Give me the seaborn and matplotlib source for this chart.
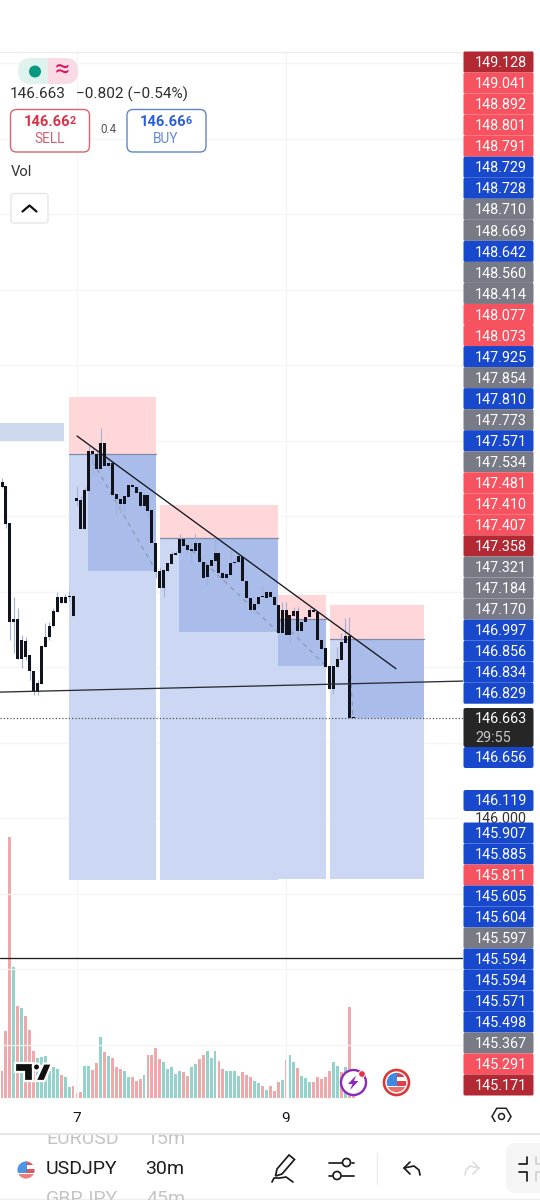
import matplotlib
matplotlib.use('Agg')

import matplotlib.pyplot as plt
import matplotlib.patches as mpatches
import seaborn as sns
import pandas as pd
import numpy as np

# candles
body_top = [148.223,148.198,147.951,147.315,147.315,147.178,147.174,147.077,146.975,146.891,
            147.139,147.200,147.273,147.373,147.461,147.461,147.461,147.472,147.472,148.119,
            148.106,148.172,148.432,148.430,148.410,148.481,148.481,148.348,148.353,148.143,
            148.114,148.132,148.205,148.205,148.194,148.159,148.136,148.139,148.039,147.823,
            147.635,147.640,147.688,147.748,147.757,147.849,147.845,147.808,147.779,147.821,
            147.821,147.697,147.675,147.706,147.752,147.752,147.620,147.613,147.686,147.697,
            147.735,147.730,147.571,147.459,147.417,147.463,147.470,147.498,147.498,147.465,
            147.410,147.375,147.375,147.342,147.373,147.373,147.300,147.333,147.381,147.381,
            147.366,147.176,147.125,147.006,147.006,147.053,147.163,147.205,147.205,146.668]
body_bot = [148.192,147.947,147.295,147.295,147.050,147.050,147.068,146.973,146.836,146.836,
            146.887,147.134,147.196,147.271,147.366,147.421,147.421,147.461,147.340,148.101,
            147.911,147.911,148.167,148.410,148.313,148.311,148.331,148.331,148.139,148.110,
            148.077,148.079,148.128,148.189,148.154,148.066,148.066,148.035,147.823,147.631,
            147.523,147.523,147.633,147.682,147.743,147.752,147.801,147.772,147.766,147.770,
            147.695,147.591,147.593,147.671,147.702,147.620,147.587,147.587,147.609,147.686,
            147.695,147.569,147.454,147.377,147.377,147.415,147.461,147.459,147.463,147.408,
            147.227,147.227,147.214,147.214,147.337,147.236,147.236,147.298,147.331,147.362,
            147.176,147.119,147.002,146.852,146.854,147.002,147.046,147.159,146.664,146.660]
wick_hi = [148.249,148.198,147.951,147.461,147.388,147.211,147.200,147.077,146.975,146.913,
           147.139,147.289,147.300,147.388,147.498,147.465,147.483,147.503,147.476,148.200,
           148.132,148.194,148.470,148.459,148.437,148.580,148.481,148.381,148.359,148.143,
           148.114,148.132,148.205,148.249,148.198,148.159,148.150,148.139,148.039,147.823,
           147.664,147.640,147.688,147.766,147.766,147.878,147.863,147.808,147.819,147.880,
           147.821,147.697,147.675,147.706,147.863,147.752,147.620,147.613,147.774,147.719,
           147.752,147.730,147.571,147.459,147.417,147.463,147.543,147.498,147.498,147.465,
           147.410,147.432,147.432,147.342,147.399,147.399,147.300,147.333,147.399,147.399,
           147.366,147.176,147.125,147.006,147.006,147.134,147.223,147.322,147.329,146.668]
wick_lo = [148.183,147.918,147.178,147.090,147.050,146.991,147.046,146.913,146.814,146.814,
           146.887,147.134,147.178,147.267,147.366,147.421,147.421,147.439,147.340,148.066,
           147.911,147.911,148.167,148.282,148.304,148.311,148.331,148.304,148.139,148.006,
           148.017,148.028,148.128,148.189,148.150,148.061,148.039,147.984,147.819,147.587,
           147.523,147.465,147.631,147.682,147.739,147.752,147.801,147.752,147.686,147.766,
           147.695,147.591,147.543,147.671,147.702,147.620,147.558,147.576,147.609,147.686,
           147.695,147.569,147.454,147.355,147.351,147.388,147.461,147.459,147.463,147.408,
           147.227,147.227,147.214,147.156,147.337,147.200,147.236,147.298,147.331,147.362,
           147.176,147.119,147.002,146.852,146.819,147.002,147.046,147.159,146.664,146.660]

volume = [27,67,261,131,92,90,82,68,47,40,41,42,27,31,29,23,21,11,12,5,6,32,32,28,35,61,46,42,40,31,
          29,27,21,21,17,19,23,43,43,50,39,36,29,31,24,27,26,22,31,34,39,43,47,40,47,37,29,27,27,27,
          22,26,23,21,17,15,12,8,12,7,16,18,38,43,36,30,22,20,16,16,21,19,21,27,36,32,26,31,91,3]
vol_side = ['d','d','d','u','d','u','d','d','d','u','u','u','u','u','u','d','u','u','d','d',
            'd','u','u','d','d','u','d','u','d','d','d','u','u','d','d','d','u','d','d','d',
            'd','u','u','u','u','u','d','d','u','u','d','d','u','u','u','d','d','u','u','u',
            'u','d','d','d','u','u','d','u','d','d','d','u','d','u','u','d','u','u','u','d',
            'd','d','d','d','u','u','d','u','d','d']

day_ticks = [19, 72]
day_labels = ['7', '9']

# position tools: left bar, right bar, stop, entry, target, inner bar, inner target
tool_left = [16.98, 40.05, 69.96, 83.14]
tool_right = [39.04, 69.96, 82.13, 106.97]
tool_stop = [148.791, 148.073, 147.477, 147.410]
tool_entry = [148.414, 147.854, 147.321, 147.184]
tool_target = [145.589, 145.589, 145.594, 145.594]
tool_inner_left = [21.8, 44.87, 69.96, 87.96]
tool_inner_target = [147.636, 147.232, 147.007, 146.663]

trend_x = [19.01, 99.87]
trend_y = [148.530, 146.989]
support_x = [-0.51, 116.86]
support_y = [146.834, 146.907]
level_low = 145.076
last_price = 146.663

# price scale labels, stacked
upper_labels = ['149.128','149.041','148.892','148.801','148.791','148.729','148.728','148.710',
                '148.669','148.642','148.560','148.414','148.077','148.073','147.925','147.854',
                '147.810','147.773','147.571','147.534','147.481','147.410','147.407','147.358',
                '147.321','147.184','147.170','146.997','146.856','146.834','146.829']
upper_colors = ['dr','r','r','r','r','b','b','g','g','b','g','g','r','r','b','g',
                'b','g','b','g','r','r','r','dr','g','g','g','b','b','b','b']
lower_labels = ['145.907','145.885','145.811','145.605','145.604','145.597','145.594','145.594',
                '145.571','145.498','145.367','145.291','145.171']
lower_colors = ['b','b','r','b','b','g','b','b','b','b','g','r','dr']

sns.set_style('white')
plt.rcParams['font.family'] = ['Roboto', 'DejaVu Sans']

W, H = 540, 1200
CHART_R, CHART_T, CHART_B = 463, 52, 1098
fig = plt.figure(figsize=(W / 100, H / 100), dpi=100, facecolor='white')
rect = [0, 1 - CHART_B / H, CHART_R / W, (CHART_B - CHART_T) / H]

ax_vol = fig.add_axes(rect, zorder=1)
ax = fig.add_axes(rect, zorder=2)
ax.patch.set_visible(False)

# volume
df_vol = pd.DataFrame({'bar': np.arange(len(volume)), 'volume': volume, 'side': vol_side})
sns.barplot(data=df_vol, x='bar', y='volume', hue='side', dodge=False,
            palette={'d': '#efa9aa', 'u': '#93d3cb'}, width=0.74, saturation=1,
            linewidth=0, legend=False, ax=ax_vol)
ax_vol.set_xlim(-0.51, 116.86)
ax_vol.set_ylim(0, CHART_B - CHART_T)
ax_vol.axis('off')

# position tools
for i in range(4):
    w = tool_right[i] - tool_left[i]
    ax.add_patch(mpatches.Rectangle((tool_left[i], tool_entry[i]), w, tool_stop[i] - tool_entry[i],
                                    fc='#ffd7d9', ec='none', zorder=1))
    ax.add_patch(mpatches.Rectangle((tool_left[i], tool_target[i]), w, tool_entry[i] - tool_target[i],
                                    fc='#ccd8f3', ec='none', zorder=1))
    ax.add_patch(mpatches.Rectangle((tool_inner_left[i], tool_inner_target[i]),
                                    tool_right[i] - tool_inner_left[i],
                                    tool_entry[i] - tool_inner_target[i],
                                    fc='#a9bcea', ec='none', zorder=1.1))
    ax.plot([tool_left[i], tool_right[i]], [tool_entry[i]] * 2, color='#7f8aa8', lw=0.9, zorder=1.2)
    # dashed path inside the tool
    ax.plot([tool_inner_left[i], tool_right[i] if i < 3 else tool_inner_left[i] + 1],
            [tool_entry[i], tool_inner_target[i]], color='#8a93a8', lw=0.8, ls=(0, (4, 4)), zorder=1.3)
ax.add_patch(mpatches.Rectangle((-0.51, 148.497), 16.23, 0.119, fc='#cfd9ee', ec='none', zorder=1))

# candles
bars = np.arange(len(body_top))
ax.vlines(bars, wick_lo, wick_hi, color='#a3b3d8', lw=0.85, zorder=2)
ax.bar(bars, np.array(body_top) - np.array(body_bot), bottom=body_bot, width=0.76,
       color='#10131c', linewidth=0, zorder=3)

# drawn lines
sns.lineplot(x=trend_x, y=trend_y, color='#15171f', lw=0.95, ax=ax, zorder=4)
sns.lineplot(x=support_x, y=support_y, color='#2a2d36', lw=0.95, ax=ax, zorder=4)
ax.axhline(level_low, color='#222222', lw=0.95, zorder=4)
ax.axhline(last_price, color='#555555', lw=0.9, ls=(0, (1, 1.6)), zorder=4)

ax.set_xlim(-0.51, 116.86)
ax.set_ylim(144.146, 151.073)
ax.set_yticks(np.arange(144.5, 151.5, 0.5))
ax.set_yticklabels([])
ax.set_xticks(day_ticks)
ax.set_xticklabels(day_labels, fontsize=11, color='#131722')
ax.tick_params(axis='both', length=0)
ax.tick_params(axis='x', pad=10)
ax.grid(True, color='#f5f5f6', lw=0.9)
ax.set_axisbelow(True)
sns.despine(ax=ax, left=True, bottom=True, top=True, right=True)

# everything around the chart is drawn in picture pixels
ui = fig.add_axes([0, 0, 1, 1], zorder=5)
ui.set_xlim(0, W)
ui.set_ylim(H, 0)
ui.axis('off')


def rbox(x0, y0, x1, y1, fc, ec='none', r=2.0, lw=1.0, z=5):
    ui.add_patch(mpatches.FancyBboxPatch((x0, y0), x1 - x0, y1 - y0,
                                         boxstyle='round,pad=0,rounding_size=%s' % r,
                                         fc=fc, ec=ec, lw=lw, zorder=z))


def txt(x, y, s, size=10, color='#222222', ha='left', weight='normal', z=8):
    ui.text(x, y, s, fontsize=size, color=color, ha=ha, va='center', fontweight=weight, zorder=z)


ui.plot([0, CHART_R], [52, 52], color='#ececec', lw=0.9)

# price scale
scale_colors = {'r': '#f7525f', 'dr': '#b22833', 'b': '#1848cc', 'g': '#787b86'}
step = 21.04
for i, lab in enumerate(upper_labels):
    yc = 62 + i * step
    rbox(463.5, yc - step / 2, 533.5, yc + step / 2, scale_colors[upper_colors[i]], r=1.5)
    txt(501, yc + 1.2, lab, 10.4, '#ffffff', 'center')

rbox(463.5, 708, 533.5, 747, '#262626', r=2)
txt(475, 719, '146.663', 10.4, '#ffffff')
txt(475, 737.5, '29:55', 10.4, '#c9c9c9')
rbox(463.5, 747, 533.5, 768, scale_colors['b'], r=2)
txt(501, 758, '146.656', 10.4, '#ffffff', 'center')
rbox(463.5, 790, 533.5, 811, scale_colors['b'], r=2)
txt(501, 801, '146.119', 10.4, '#ffffff', 'center')
txt(501, 819, '146.000', 10.4, '#333333', 'center', z=5)
for i, lab in enumerate(lower_labels):
    yc = 833 + i * 21
    rbox(463.5, yc - 10.5, 533.5, yc + 10.5, scale_colors[lower_colors[i]], r=1.5, z=6)
    txt(501, yc + 1.2, lab, 10.4, '#ffffff', 'center')

# header
ui.add_patch(mpatches.FancyBboxPatch((18, 58), 60, 26, boxstyle='round,pad=0,rounding_size=13',
                                     fc='#e0f2ee', ec='none', zorder=5))
clip = mpatches.FancyBboxPatch((18, 58), 60, 26, boxstyle='round,pad=0,rounding_size=13',
                               fc='none', ec='none', transform=ui.transData)
ui.add_patch(clip)
pink = mpatches.Rectangle((48, 58), 30, 26, fc='#fadbe5', ec='none', zorder=5.1)
ui.add_patch(pink)
pink.set_clip_path(clip)
ui.add_patch(mpatches.Circle((35, 71.5), 6, fc='#089981', ec='none', zorder=6))
txt(62.5, 71, '≈', 19, '#d6145f', 'center')
txt(10, 94.5, '146.663', 11.1, '#2e2e2e')
txt(76, 94.5, '−0.802 (−0.54%)', 11.1, '#2e2e2e')

rbox(10.5, 109.5, 89.5, 152, '#ffffff', '#d9646f', r=6, z=5)
txt(24, 122.5, '146.66', 10.6, '#d8324a', weight='bold')
txt(70, 121.5, '2', 7.8, '#d8324a', weight='bold')
txt(49.5, 139, 'SELL', 9.8, '#d0606e', 'center')
txt(108, 129.5, '0.4', 8.4, '#555555', 'center')
rbox(127, 109.5, 206, 152, '#ffffff', '#5f86c8', r=6, z=5)
txt(140, 122.5, '146.66', 10.6, '#2b5fd9', weight='bold')
txt(186, 121.5, '6', 7.8, '#2b5fd9', weight='bold')
txt(166, 139, 'BUY', 9.8, '#6488d8', 'center')
txt(11, 172.5, 'Vol', 10.6, '#333333')
rbox(11, 193.5, 48, 223, '#ffffff', '#e6e6e6', r=2.5, z=5)
ui.plot([22.5, 29.5, 36.5], [211.5, 205.5, 211.5], color='#111111', lw=1.6, zorder=6)

# logo
halo = dict(fc='#111111', ec='white', lw=1.6, zorder=6, joinstyle='miter')
ui.add_patch(mpatches.Polygon([(14.5, 1063), (33, 1063), (33, 1081), (23.5, 1081), (23.5, 1072), (14.5, 1072)], **halo))
ui.add_patch(mpatches.Circle((36.5, 1067), 3.6, **halo))
ui.add_patch(mpatches.Polygon([(43.5, 1063.5), (52, 1063.5), (44.5, 1081), (35.5, 1081)], **halo))

# alert icon
ui.add_patch(mpatches.Circle((353.5, 1082.5), 12.5, fc='white', ec='#8a2bb8', lw=1.7, zorder=6))
ui.add_patch(mpatches.Polygon([(356, 1075.5), (348, 1084), (352.5, 1084), (350, 1090),
                               (358.5, 1081), (354, 1081)], fc='#8a2bb8', ec='none', zorder=7))
ui.add_patch(mpatches.Circle((362, 1074), 3.3, fc='#e5344a', ec='white', lw=0.6, zorder=7))


# flag icons
def flag(cx, cy, r, ring, alpha=1.0):
    disc = mpatches.Circle((cx, cy), r, fc='white', ec=ring, lw=1.9 if ring != 'none' else 0, zorder=6, alpha=alpha)
    ui.add_patch(disc)
    parts = [mpatches.Rectangle((cx, cy - r * 0.78), r, r * 0.36, fc='#d9454c', ec='none', zorder=6.1, alpha=alpha),
             mpatches.Rectangle((cx, cy - r * 0.12), r, r * 0.36, fc='#d9454c', ec='none', zorder=6.1, alpha=alpha),
             mpatches.Rectangle((cx - r, cy + r * 0.38), 2 * r, r * 0.5, fc='#e8706f', ec='none', zorder=6.1, alpha=alpha),
             mpatches.Rectangle((cx - r, cy - r), r * 1.05, r * 1.25, fc='#3d8ae0', ec='none', zorder=6.2, alpha=alpha)]
    inner = mpatches.Circle((cx, cy), r * 0.78, transform=ui.transData)
    for p in parts:
        ui.add_patch(p)
        p.set_clip_path(inner)


flag(396.5, 1082.5, 12.5, '#d83a3a')
flag(26, 1170, 11, 'none', 0.9)

# time axis strip and settings hexagon
ui.add_patch(mpatches.RegularPolygon((501.5, 1116.5), 6, radius=9.5, orientation=np.pi / 2,
                                     fc='none', ec='#222222', lw=1.1))
ui.add_patch(mpatches.Circle((501.5, 1116.5), 3, fc='none', ec='#222222', lw=1.1))

# bottom toolbar
txt(46, 1138.5, 'EURUSD', 14, '#c4c4c4', z=5.5)
txt(146, 1138.5, '15m', 14, '#c4c4c4', z=5.5)
ui.add_patch(mpatches.Rectangle((0, 1122), W, 11.5, fc='white', ec='none', zorder=5.6))
ui.plot([0, W], [1133.5, 1133.5], color='#e6e6e6', lw=1.4, zorder=7)
txt(46, 1168.5, 'USDJPY', 14, '#1c1c1c')
txt(145, 1168.5, '30m', 14, '#1c1c1c')
txt(46, 1199, 'GBPJPY', 14, '#c4c4c4', z=5.5)
txt(146, 1199, '45m', 14, '#c4c4c4', z=5.5)

ink = dict(color='#1c1c1c', lw=1.25, zorder=8, solid_capstyle='round')
# pencil
ui.add_patch(mpatches.Polygon([(289, 1155), (294.5, 1159.5), (282, 1174), (275.5, 1176), (277, 1169)],
                              fc='none', ec='#1c1c1c', lw=1.25, zorder=8))
ui.plot([272, 274, 280, 286, 293], [1182, 1178, 1178, 1177, 1182], **ink)
# sliders
ui.plot([329, 342], [1162.5, 1162.5], **ink)
ui.plot([352, 354], [1162.5, 1162.5], **ink)
ui.plot([329, 332], [1175.5, 1175.5], **ink)
ui.plot([342, 354], [1175.5, 1175.5], **ink)
ui.add_patch(mpatches.Circle((346.5, 1162.5), 4, fc='white', ec='#1c1c1c', lw=1.25, zorder=8))
ui.add_patch(mpatches.Circle((337, 1175.5), 4, fc='white', ec='#1c1c1c', lw=1.25, zorder=8))
ui.plot([377, 377], [1153, 1184], color='#ececec', lw=1)
# undo, redo
ui.plot([410, 404, 410], [1162, 1168, 1174], **ink)
ui.plot([404, 414, 419, 420], [1168, 1166, 1170, 1175], **ink)
redo = dict(color='#dddddd', lw=1.25, zorder=8, solid_capstyle='round')
ui.plot([473, 479, 473], [1162, 1168, 1174], **redo)
ui.plot([479, 470, 466, 465], [1168, 1166, 1170, 1175], **redo)
# fullscreen button
rbox(506, 1143, 560, 1193, '#f5f5f5', r=10, z=5)
corner = dict(color='#1c1c1c', lw=1.25, zorder=8)
ui.plot([519, 527, 527], [1164, 1164, 1157], **corner)
ui.plot([519, 527, 527], [1172, 1172, 1181], **corner)
ui.plot([536, 536, 540], [1157, 1164, 1164], color='#cccccc', lw=1.1, zorder=8)
ui.plot([536, 536, 540], [1181, 1172, 1172], color='#cccccc', lw=1.1, zorder=8)
ui.plot([0, W], [1198.5, 1198.5], color='#eeeeee', lw=1)

fig.savefig('out.png', dpi=100, facecolor='white')
